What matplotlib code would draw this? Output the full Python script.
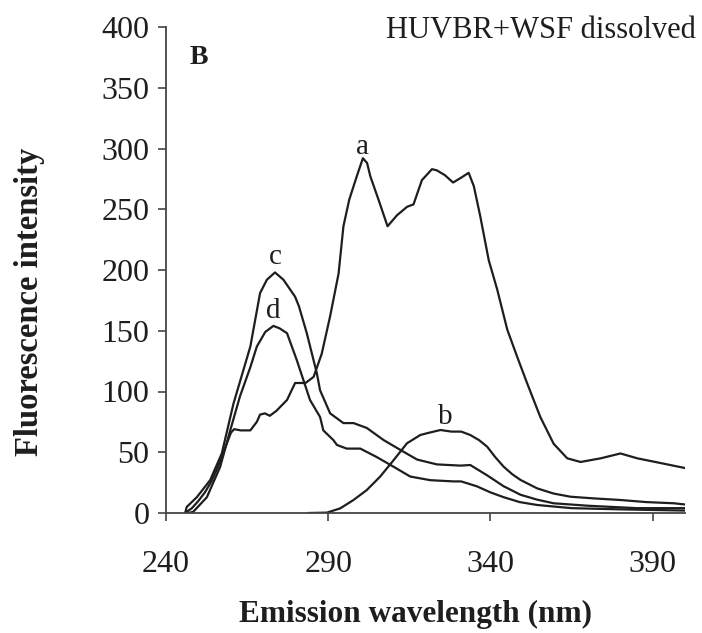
import matplotlib
matplotlib.use("Agg")
import matplotlib.pyplot as plt

# Curve a
wl_a = [245.9, 248, 250, 252, 254, 256, 258, 260, 261, 263, 266, 268, 269, 270.5, 272, 274,
        277.3, 279.8, 283, 285.5, 288, 290.6, 293.2, 294.7, 296.5, 298.8, 300.7, 302, 303, 305.5,
        308.3, 311.2, 314.3, 316.3, 318.9, 322, 323.5, 326, 328.5, 331, 333.3, 334.9, 336.9,
        339.5, 342.1, 345.2, 348.2, 351.3, 355.4, 359.5, 363.7, 367.8, 374, 380.1, 385.3,
        392.7, 400]
int_a = [0, 4, 10, 17, 26, 38, 52, 66, 69, 68, 68, 75, 81, 82, 80, 84,
         93, 107, 107, 112, 131, 162, 197, 236, 258, 277, 292, 288, 277, 258,
         236, 245, 252, 254, 274, 283, 282, 278, 272, 276, 280, 269, 244,
         208, 184, 151, 129, 107, 79, 57, 45, 42, 45, 49, 45,
         41, 37]

# Curve b
wl_b = [284, 289.6, 293.7, 297.8, 301.9, 306, 310.2, 314.3, 318.4, 321, 324.6, 328, 331,
        333.8, 336.5, 339, 341.5, 344.1, 346.7, 349.3, 354.4, 359.5, 364.7, 372, 380.1, 388,
        396.6, 400]
int_b = [0, 0.3, 3.8, 10.7, 18.9, 29.9, 43.6, 57.4, 64.2, 66, 68.3, 67, 67,
         64.2, 60, 54.6, 46, 38.1, 32, 27.2, 20.3, 16, 13.4, 12, 10.7, 9,
         8, 7]

# Curve c
wl_c = [245.9, 246.4, 249.5, 253.6, 257.2, 260.8, 263.9, 266, 269, 271.1, 273.6, 276.2, 278,
        279.8, 281, 283.4, 286.5, 287.5, 290.6, 294.7, 297.8, 301.9, 307.1, 312.2, 317.4,
        323.5, 330.8, 333.8, 339, 344.1, 349.3, 354.4, 359.5, 370, 385, 400]
int_c = [0, 5, 13, 27, 49, 90, 118, 137, 181, 192, 198, 192, 185,
         178, 170, 148, 115, 101, 82, 74, 74, 70, 60, 52, 44,
         40, 39, 39.5, 31, 22, 15, 11, 8, 6, 4, 4]

# Curve d
wl_d = [247, 248.4, 252.6, 256.7, 259.8, 262.8, 266, 268, 270.6, 273.1, 275, 277.3, 280.3,
        284.4, 287.5, 288.5, 291.6, 292.7, 295.7, 299.9, 305, 310.2, 315.3, 321.5, 328.7,
        331, 335.8, 340, 344.1, 349, 354.4, 365, 380, 400]
int_d = [0, 1, 13, 38, 68, 96, 120, 137, 149, 154, 152, 148, 126,
         93, 79, 68, 60, 56, 53, 53, 46, 38, 30, 27, 26,
         26, 22, 17, 13, 9, 6.6, 4, 3, 2]

curve_labels = ["a", "b", "c", "d"]
label_pos = [(300.5, 301), (326, 79), (273.6, 211), (273, 166)]

x_ticks = [240, 290, 340, 390]
y_ticks = [0, 50, 100, 150, 200, 250, 300, 350, 400]

plt.rcParams['font.family'] = ['Liberation Serif', 'DejaVu Serif']

fig = plt.figure(figsize=(7.02, 6.33), dpi=100)
ax = fig.add_axes([166/702, 1 - 513/633, (685-166)/702, (513-27)/633])

col = "#1e1e1e"
for wl, it in [(wl_a, int_a), (wl_b, int_b), (wl_c, int_c), (wl_d, int_d)]:
    ax.plot(wl, it, color=col, lw=1.6, solid_joinstyle="round")

for lab, (lx, ly) in zip(curve_labels, label_pos):
    ax.text(lx, ly, lab, fontsize=21, ha="center", va="center", color=col)

ax.text(250, 375, "B", fontsize=20, fontweight="bold", ha="center", va="center", color=col)
fig.text(696/702, 1 - 30/633, "HUVBR+WSF dissolved", fontsize=22, ha="right", va="center", color=col)

ax.set_xlim(240, 400)
ax.set_ylim(0, 400)
ax.set_xticks(x_ticks)
ax.set_yticks(y_ticks)
ax.spines["top"].set_visible(False)
ax.spines["right"].set_visible(False)
for s in ["left", "bottom"]:
    ax.spines[s].set_color("#444444")
    ax.spines[s].set_linewidth(1.3)
ax.tick_params(axis="both", direction="out", length=6, width=1.2, color="#444444",
               labelsize=23, labelcolor=col)
ax.tick_params(axis="y", pad=6)
ax.tick_params(axis="x", pad=21)

fig.text(415/702, 1 - 614/633, "Emission wavelength (nm)", fontsize=22.5, fontweight="bold",
         ha="center", va="center", color=col)
fig.text(30/702, 1 - 302/633, "Fluorescence intensity", fontsize=23.5, fontweight="bold",
         ha="center", va="center", rotation=90, color=col)

fig.savefig("out.png", dpi=100)
